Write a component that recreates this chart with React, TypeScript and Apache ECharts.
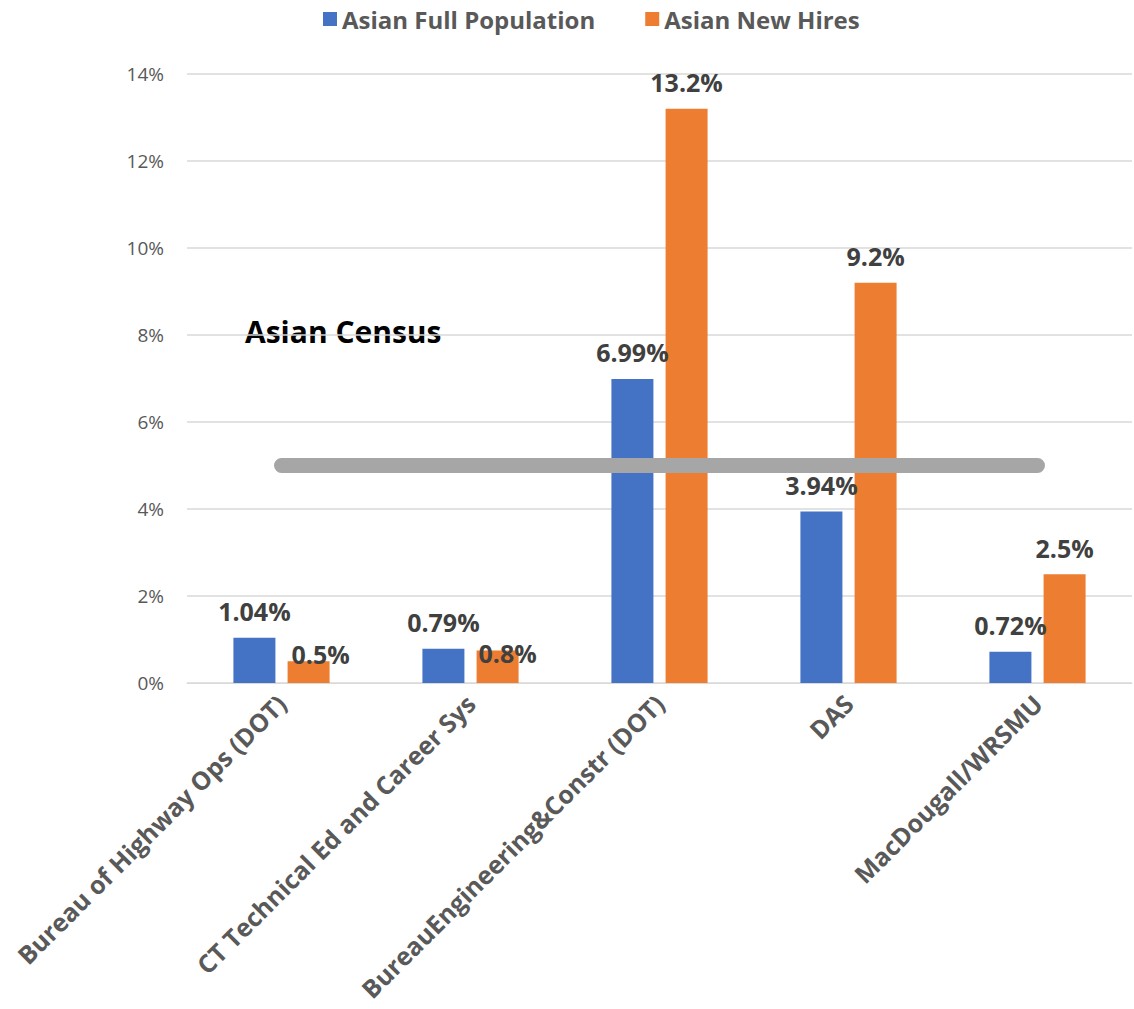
import React, { useEffect, useRef } from "react";
import * as echarts from "echarts";

const categories = [
  "Bureau of Highway Ops (DOT)",
  "CT Technical Ed and Career Sys",
  "BureauEngineering&Constr (DOT)",
  "DAS",
  "MacDougall/WRSMU",
];
const fullPopulation = [1.04, 0.79, 6.99, 3.94, 0.72];
const newHires = [0.5, 0.75, 13.2, 9.2, 2.5];
const censusValue = 5;
const yTicks = [0, 2, 4, 6, 8, 10, 12, 14];

const FONT = "'Open Sans', 'Noto Sans', sans-serif";

export default function App() {
  const ref = useRef<HTMLDivElement>(null);
  useEffect(() => {
    if (!ref.current) return;
    const chart = echarts.init(ref.current, undefined, { renderer: "svg" });
    const hireOffsets: Record<number, number[]> = { 0: [12, 19], 1: [10, 29] };
    const valueLabel = {
      show: true,
      position: "top",
      distance: 14,
      fontFamily: FONT,
      fontSize: 25,
      fontWeight: "bold",
      color: "#404040",
    };
    chart.setOption({
      animation: false,
      textStyle: { fontFamily: FONT },
      legend: {
        top: 2,
        left: 318,
        itemWidth: 14,
        itemHeight: 14,
        itemGap: 50,
        icon: "rect",
        textStyle: { fontFamily: FONT, fontSize: 24, fontWeight: "bold", color: "#595959" },
        data: ["Asian Full Population", "Asian New Hires"],
      },
      grid: { left: 187, right: 2, top: 74, bottom: 326, containLabel: false },
      xAxis: {
        type: "category",
        data: categories,
        axisLine: { show: true, lineStyle: { color: "#d9d9d9", width: 1 } },
        axisTick: { show: false },
        axisLabel: {
          interval: 0,
          rotate: 45,
          margin: 16,
          fontFamily: FONT,
          fontSize: 25,
          fontWeight: "bold",
          color: "#595959",
        },
      },
      yAxis: {
        type: "value",
        min: yTicks[0],
        max: yTicks[yTicks.length - 1],
        interval: 2,
        axisLine: { show: false },
        axisTick: { show: false },
        splitLine: { lineStyle: { color: "#d9d9d9", width: 1.5 } },
        axisLabel: {
          margin: 23,
          fontFamily: FONT,
          fontSize: 19,
          color: "#595959",
          formatter: (v: number) => `${v}%`,
        },
      },
      series: [
        {
          name: "Asian Full Population",
          type: "bar",
          data: fullPopulation,
          barWidth: 42,
          barGap: "29%",
          itemStyle: { color: "#4472c4" },
          label: {
            ...valueLabel,
            formatter: (p: any) => `${Number(p.value).toFixed(2)}%`,
          },
        },
        {
          name: "Asian New Hires",
          type: "bar",
          data: newHires.map((v, i) =>
            hireOffsets[i] ? { value: v, label: { offset: hireOffsets[i] } } : v
          ),
          barWidth: 42,
          barGap: "29%",
          itemStyle: { color: "#ed7d31" },
          label: {
            ...valueLabel,
            formatter: (p: any) => `${Number(p.value).toFixed(1)}%`,
          },
        },
        {
          name: "Asian Census",
          type: "line",
          data: categories.map(() => censusValue),
          showSymbol: false,
          symbol: "none",
          silent: true,
          z: 5,
          lineStyle: { color: "#a6a6a6", width: 15, cap: "round" },
        },
      ],
      graphic: [
        {
          type: "text",
          left: 245,
          top: 316,
          style: {
            text: "Asian Census",
            fontFamily: FONT,
            fontSize: 30,
            fontWeight: "bold",
            fill: "#000000",
          },
        },
      ],
    });
    return () => chart.dispose();
  }, []);
  return <div ref={ref} style={{ width: 1134, height: 1009, position: "absolute", left: 0, top: 0 }} />;
}
